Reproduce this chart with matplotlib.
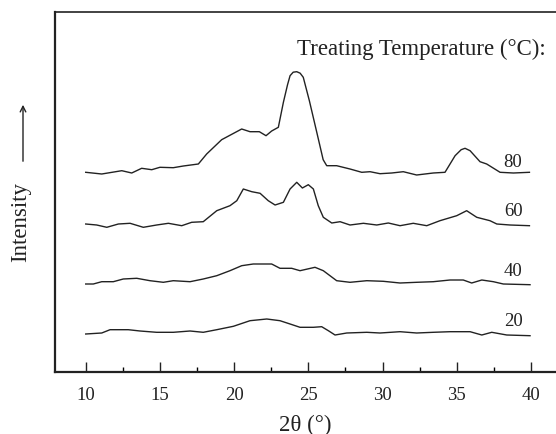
import matplotlib.pyplot as plt
from matplotlib.ticker import MultipleLocator

# Data (2theta in degrees, intensity in arbitrary stacked units)
x_80 = [10.0, 11.08, 12.43, 13.1, 13.77, 14.45, 15.0, 15.9, 16.58, 17.59, 18.15,
        19.16, 20.51, 21.07, 21.7, 22.15, 22.53, 22.98, 23.32, 23.6, 23.77,
        23.98, 24.22, 24.45, 24.66, 25.07, 25.57, 26.0, 26.24, 26.91, 27.81,
        28.6, 29.16, 29.83, 30.62, 31.4, 32.3, 33.42, 34.21, 34.89, 35.3,
        35.56, 35.9, 36.57, 37.02, 37.92, 38.82, 39.9]
y_80 = [199.4, 197.7, 201, 198.7, 203.4, 202, 204.4, 204, 205.7, 207.7, 217.7,
        232, 242.7, 240, 240, 236, 240.7, 244.4, 269.4, 287, 296,
        299.5, 300, 298.5, 294.4, 271, 239.4, 212, 206, 206, 202.7,
        199.4, 200, 198, 198.7, 200, 196.7, 198.7, 199.4, 216, 222,
        223.4, 221, 210, 207.7, 199.4, 198.7, 199.4]

x_60 = [10.0, 10.74, 11.42, 12.2, 12.99, 13.88, 14.78, 15.57, 16.47, 17.14,
        17.92, 18.83, 19.72, 20.18, 20.62, 21.19, 21.75, 22.3, 22.76, 23.32,
        23.77, 24.22, 24.6, 25.0, 25.34, 25.67, 26.01, 26.58, 27.14, 27.81,
        28.71, 29.61, 30.39, 31.18, 32.07, 32.98, 33.87, 35.0, 35.67, 36.35,
        37.24, 37.7, 38.59, 39.9]
y_60 = [147.7, 146.7, 144.4, 147.7, 148.4, 144.4, 146.7, 148.4, 146, 149.4,
        150, 161, 166, 171, 182.7, 180, 178.4, 171, 166.7, 169.4,
        182.7, 189.4, 183.7, 187, 182.7, 166, 154.4, 148.7, 150, 146.7,
        148.4, 146.7, 148.7, 146, 148.4, 146, 151, 156, 161, 154.4,
        151, 147.7, 146.7, 146]

x_40 = [10.0, 10.51, 11.08, 11.86, 12.53, 13.44, 14.33, 15.23, 15.9, 17.03,
        17.92, 18.83, 19.72, 20.51, 21.29, 22.53, 23.09, 23.88, 24.44, 25.45,
        26.01, 26.91, 27.81, 28.94, 30.05, 31.18, 32.3, 33.42, 34.55, 35.44,
        36.01, 36.69, 37.47, 38.14, 39.94]
y_40 = [87.7, 87.7, 90, 90, 92.7, 93.4, 91, 89.4, 91, 90,
        92.7, 96, 101, 106, 107.7, 107.7, 103.4, 103.4, 101, 104.4,
        101, 91, 89.4, 91, 90.4, 88.7, 89.4, 90, 91.7, 91.7,
        88.7, 91.7, 90, 87.7, 87]

x_20 = [10.0, 11.08, 11.64, 12.87, 13.66, 14.78, 15.9, 17.03, 17.92, 18.83,
        19.95, 21.07, 22.2, 23.09, 23.77, 24.44, 25.34, 25.9, 26.35, 26.8,
        27.59, 28.94, 29.83, 31.18, 32.3, 33.42, 34.55, 35.9, 36.69, 37.36,
        38.37, 39.94]
y_20 = [37.7, 38.7, 42, 42, 40.7, 39.4, 39.4, 40.7, 39.4, 42,
        45.4, 51, 52.7, 51, 47.7, 44.4, 44.4, 45, 41, 36.7,
        38.7, 39.4, 38.7, 40, 38.7, 39.4, 40, 40, 36.7, 39.4,
        36.7, 36]

temps = ["80", "60", "40", "20"]
label_y = [210, 161, 101, 51]

plt.rcParams["font.family"] = ["Liberation Serif", "DejaVu Serif"]

fig = plt.figure(figsize=(5.56, 4.35), dpi=100)
ax = fig.add_axes([55 / 556, 62.3 / 435, 501 / 556, 359.7 / 435])

line_kw = dict(color="#222222", linewidth=1.0)
for xs, ys in [(x_80, y_80), (x_60, y_60), (x_40, y_40), (x_20, y_20)]:
    ax.plot(xs, ys, **line_kw)

for t, ly in zip(temps, label_y):
    ax.text(38.8, ly, t, fontsize=13.5, ha="center", va="center", color="#222222")

ax.text(40.97, 323, "Treating Temperature (°C):", fontsize=16.5, ha="right",
        va="center", color="#222222")

ax.set_xlim(7.93, 41.69)
ax.set_ylim(0, 359.7)

ax.xaxis.set_minor_locator(MultipleLocator(2.5))
ax.set_xticks([10, 15, 20, 25, 30, 35, 40])
ax.tick_params(axis="x", which="major", direction="in", length=7.5, width=1,
               labelsize=13.5, pad=10, colors="#222222")
ax.tick_params(axis="x", which="minor", direction="in", length=3.8, width=1)
ax.set_yticks([])

ax.spines["right"].set_visible(False)
ax.spines["left"].set_linewidth(1.6)
ax.spines["bottom"].set_linewidth(1.6)
ax.spines["top"].set_linewidth(1.2)
for s in ax.spines.values():
    s.set_color("#222222")

ax.set_xlabel("2θ (°)", fontsize=16.5, labelpad=8, color="#222222")

# y label with arrow
fig.text(21 / 556, 1 - 222 / 435, "Intensity", rotation=90, fontsize=16.5,
         ha="center", va="center", color="#222222")
ax.annotate("", xy=(23 / 556, 1 - 103 / 435), xytext=(23 / 556, 1 - 165 / 435),
            xycoords="figure fraction", textcoords="figure fraction",
            arrowprops=dict(arrowstyle="->", color="#222222", lw=1))

fig.savefig("out.png", dpi=100)
